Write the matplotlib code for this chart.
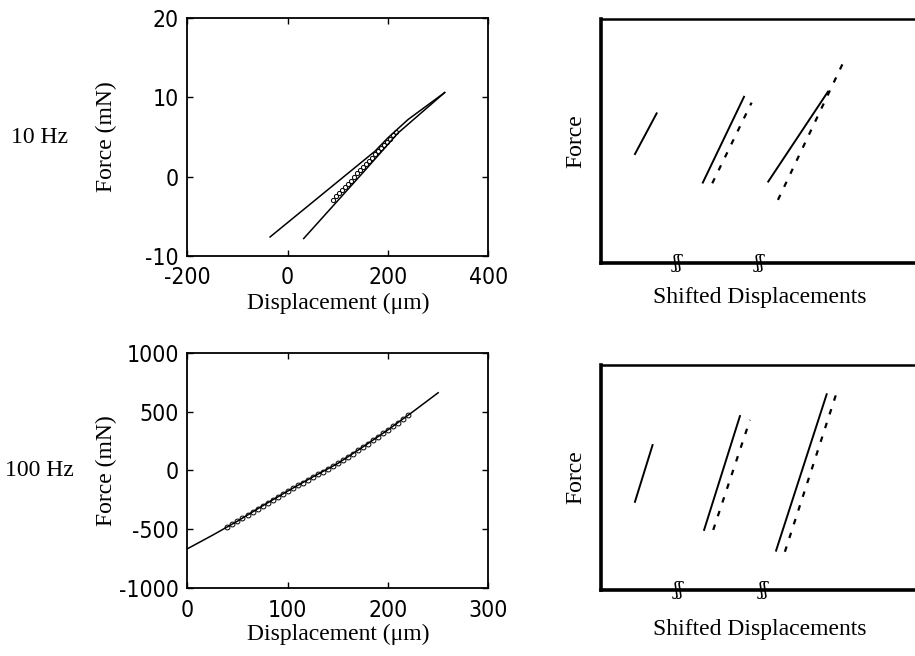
import matplotlib
matplotlib.use("Agg")
import matplotlib.pyplot as plt
from matplotlib.transforms import blended_transform_factory

plt.rcParams["axes.unicode_minus"] = False

# fuentes: etiquetas en serif, numeros en sans condensada (estilo MATLAB)
SERIF = ["Liberation Serif", "DejaVu Serif"]

# ---- 10 Hz: fuerza vs desplazamiento ----
disp10_up = [-35, 174, 200, 240, 313]
force10_up = [-7.6, 3.2, 4.9, 7.2, 10.6]
disp10_down = [32, 150, 220, 313]
force10_down = [-7.8, 0.5, 5.5, 10.6]
disp10_fit = [90, 96, 102, 108, 114, 120, 126, 132, 138, 144, 150,
              156, 162, 168, 174, 180, 186, 192, 198, 204, 210, 216]
force10_fit = [-2.9, -2.5, -2.1, -1.7, -1.3, -0.9, -0.5, -0.1, 0.4, 0.8, 1.2,
               1.6, 2.0, 2.4, 2.8, 3.2, 3.6, 4.0, 4.4, 4.8, 5.2, 5.6]

# ---- 100 Hz: fuerza vs desplazamiento ----
disp100 = [0, 25, 50, 75, 100, 125, 150, 175, 200, 225, 250]
force100 = [-665, -550, -430, -300, -175, -55, 60, 200, 345, 500, 660]
disp100_fit = [40, 45, 50, 55, 60, 65, 70, 75, 80, 85, 90, 95, 100, 105, 110,
               115, 120, 125, 130, 135, 140, 145, 150, 155, 160, 165, 170,
               175, 180, 185, 190, 195, 200, 205, 210, 215, 220]
force100_fit = [-478, -454, -430, -404, -378, -352, -326, -300, -275, -250,
                -225, -200, -175, -151, -127, -103, -79, -55, -32, -9, 14, 37,
                60, 88, 116, 144, 172, 200, 229, 258, 287, 316, 345, 376, 407,
                438, 469]

# ---- desplazamientos desplazados (unidades arbitrarias 0-100) ----
shift10_solid = [([10.9, 17.8], [44.7, 61.4]),
                 ([32.5, 45.6], [33.0, 68.2]),
                 ([53.3, 72.3], [33.4, 70.3])]
shift10_dash = [([35.5, 48.0], [32.7, 65.8]),
                ([56.4, 77.7], [25.9, 83.7])]
shift10_breaks = [24.6, 50.7]

shift100_solid = [([10.9, 16.5], [39.2, 64.4]),
                  ([32.9, 44.3], [26.7, 77.3]),
                  ([55.8, 71.9], [17.5, 87.0])]
shift100_dash = [([35.8, 47.5], [26.7, 75.6]),
                 ([58.6, 74.9], [17.0, 87.0])]
shift100_breaks = [24.9, 51.7]

fig = plt.figure(figsize=(9.15, 6.56), dpi=100)


def estilo_matlab(ax, xticks, yticks):
    ax.set_xticks(xticks)
    ax.set_yticks(yticks)
    ax.tick_params(direction="in", top=True, right=True, length=4,
                   width=1, pad=6)
    ax.tick_params(axis="x", pad=7.5)
    for lab in ax.get_xticklabels() + ax.get_yticklabels():
        lab.set_family(["DejaVu Sans"])
        lab.set_stretch("condensed")
        lab.set_fontsize(16.5)
    for s in ax.spines.values():
        s.set_linewidth(1.3)


def panel_shift(ax, solid, dash, breaks, ylab_y):
    for x, y in solid:
        ax.plot(x, y, color="black", lw=1.4)
    for x, y in dash:
        ax.plot(x, y, color="black", lw=1.6, linestyle=(0, (2.5, 4)))
    ax.set_xlim(0, 100)
    ax.set_ylim(0, 100)
    ax.set_xticks([])
    ax.set_yticks([])
    ax.spines["right"].set_visible(False)
    ax.spines["left"].set_linewidth(2.6)
    ax.spines["bottom"].set_linewidth(2.6)
    ax.spines["top"].set_linewidth(1.8)
    tr = blended_transform_factory(ax.transData, ax.transAxes)
    for b in breaks:
        ax.text(b, 0, "ʃʃ", transform=tr, ha="center", va="center",
                fontsize=13, family=["DejaVu Serif"])
    ax.set_ylabel("Force", family=SERIF, fontsize=17)
    ax.yaxis.set_label_coords(-0.047, 0.5)
    ax.set_xlabel("Shifted Displacements", family=SERIF, fontsize=17)
    ax.xaxis.set_label_coords(0.507, ylab_y)


# arriba izquierda: 10 Hz
ax1 = fig.add_axes([0.2047, 0.6098, 0.329, 0.3628])
ax1.plot(disp10_up, force10_up, color="black", lw=1.1)
ax1.plot(disp10_down, force10_down, color="black", lw=1.1)
ax1.plot(disp10_fit, force10_fit, "o", mfc="none", mec="black", ms=3,
         mew=0.7)
ax1.set_xlim(-200, 400)
ax1.set_ylim(-10, 20)
estilo_matlab(ax1, [-200, 0, 200, 400], [-10, 0, 10, 20])
ax1.set_xlabel("Displacement (\u03bcm)", family=SERIF, fontsize=17)
ax1.xaxis.set_label_coords(0.5, -0.155)
ax1.set_ylabel("Force (mN)", family=SERIF, fontsize=17)
ax1.yaxis.set_label_coords(-0.234, 0.5)

# abajo izquierda: 100 Hz
ax3 = fig.add_axes([0.2047, 0.1032, 0.329, 0.3592])
ax3.plot(disp100, force100, color="black", lw=1.1)
ax3.plot(disp100_fit, force100_fit, "o", mfc="none", mec="black", ms=3.5,
         mew=0.7)
ax3.set_xlim(0, 300)
ax3.set_ylim(-1000, 1000)
estilo_matlab(ax3, [0, 100, 200, 300], [-1000, -500, 0, 500, 1000])
ax3.set_xlabel("Displacement (\u03bcm)", family=SERIF, fontsize=17)
ax3.xaxis.set_label_coords(0.5, -0.152)
ax3.set_ylabel("Force (mN)", family=SERIF, fontsize=17)
ax3.yaxis.set_label_coords(-0.234, 0.5)

# derecha: desplazamientos desplazados
ax2 = fig.add_axes([0.6565, 0.5991, 0.3435, 0.3715])
panel_shift(ax2, shift10_solid, shift10_dash, shift10_breaks, -0.098)
ax4 = fig.add_axes([0.6565, 0.1006, 0.3435, 0.343])
panel_shift(ax4, shift100_solid, shift100_dash, shift100_breaks, -0.129)

fig.text(0.0437, 0.791, "10 Hz", family=SERIF, fontsize=17,
         ha="center", va="center")
fig.text(0.0426, 0.2835, "100 Hz", family=SERIF, fontsize=17,
         ha="center", va="center")

fig.savefig("out.png", dpi=100)
